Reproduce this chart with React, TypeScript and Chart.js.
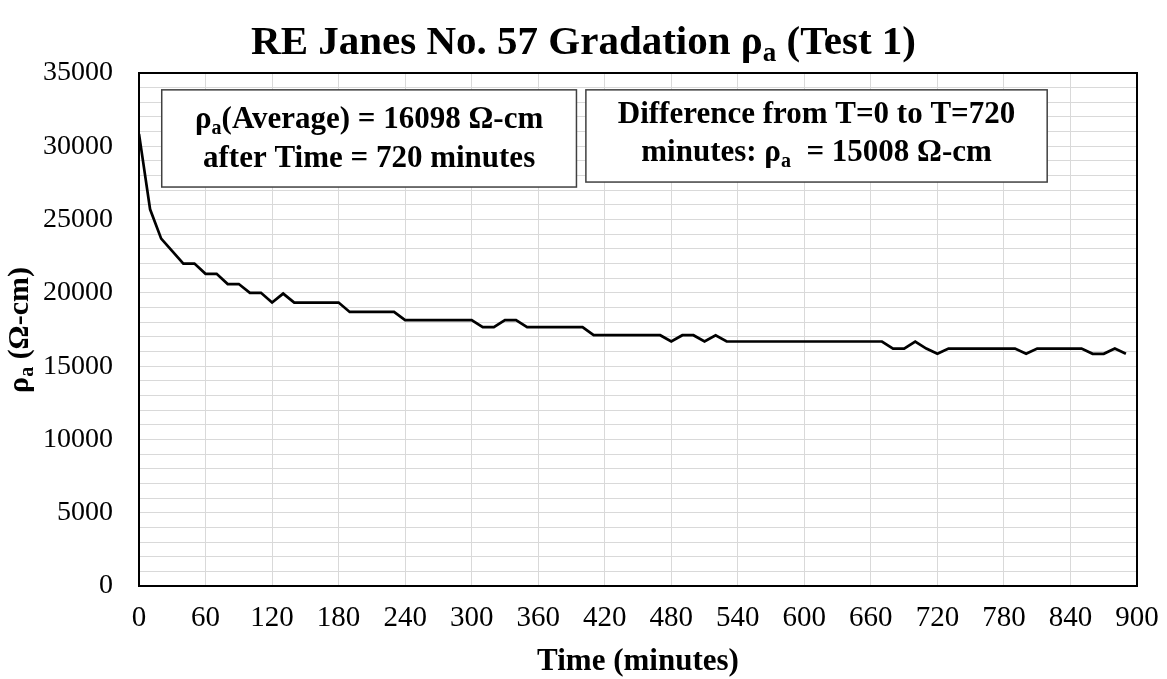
import React, { useEffect, useRef } from "react";
import { Chart, registerables } from "chart.js";

Chart.register(...registerables);

// Time (minutes)
const timeMinutes = [
  0, 10, 20, 30, 40, 50, 60, 70, 80, 90,
  100, 110, 120, 130, 140, 150, 160, 170, 180, 190,
  200, 210, 220, 230, 240, 250, 260, 270, 280, 290,
  300, 310, 320, 330, 340, 350, 360, 370, 380, 390,
  400, 410, 420, 430, 440, 450, 460, 470, 480, 490,
  500, 510, 520, 530, 540, 550, 560, 570, 580, 590,
  600, 610, 620, 630, 640, 650, 660, 670, 680, 690,
  700, 710, 720, 730, 740, 750, 760, 770, 780, 790,
  800, 810, 820, 830, 840, 850, 860, 870, 880, 890,
];

// Apparent resistivity rho_a (ohm-cm)
const rhoA = [
  30850, 25700, 23700, 22850, 22000, 22000, 21300, 21300, 20600, 20600,
  20000, 20000, 19340, 19950, 19340, 19340, 19340, 19340, 19340, 18700,
  18700, 18700, 18700, 18700, 18140, 18140, 18140, 18140, 18140, 18140,
  18140, 17660, 17660, 18140, 18140, 17660, 17660, 17660, 17660, 17660,
  17660, 17110, 17110, 17110, 17110, 17110, 17110, 17110, 16680, 17110,
  17110, 16680, 17110, 16680, 16680, 16680, 16680, 16680, 16680, 16680,
  16680, 16680, 16680, 16680, 16680, 16680, 16680, 16680, 16200, 16200,
  16680, 16200, 15840, 16200, 16200, 16200, 16200, 16200, 16200, 16200,
  15840, 16200, 16200, 16200, 16200, 16200, 15840, 15840, 16200, 15840,
];

const xTickStep = 60;
const xMax = 900;
const yMax = 35000;
const yMinorStep = 1000;
const yLabelStep = 5000;

const chartTitle = [
  { t: "RE Janes No. 57 Gradation ρ" },
  { t: "a", sub: true },
  { t: " (Test 1)" },
];
const yTitle = [{ t: "ρ" }, { t: "a", sub: true }, { t: " (Ω-cm)" }];
const xTitle = [{ t: "Time (minutes)" }];
const box1Lines = [
  [{ t: "ρ" }, { t: "a", sub: true }, { t: "(Average) = 16098 Ω-cm" }],
  [{ t: "after Time = 720 minutes" }],
];
const box2Lines = [
  [{ t: "Difference from T=0 to T=720" }],
  [{ t: "minutes: ρ" }, { t: "a", sub: true }, { t: "  = 15008 Ω-cm" }],
];

const FONT = "'Liberation Serif', 'Times New Roman', serif";

type Seg = { t: string; sub?: boolean };

function drawRich(
  ctx: CanvasRenderingContext2D,
  segs: Seg[],
  cx: number,
  cy: number,
  size: number,
  bold = true
) {
  const w = bold ? "bold " : "";
  const subSize = Math.round(size * 0.65);
  let total = 0;
  for (const s of segs) {
    ctx.font = `${w}${s.sub ? subSize : size}px ${FONT}`;
    total += ctx.measureText(s.t).width;
  }
  let x = cx - total / 2;
  ctx.textBaseline = "alphabetic";
  ctx.textAlign = "left";
  const base = cy + size * 0.33;
  for (const s of segs) {
    ctx.font = `${w}${s.sub ? subSize : size}px ${FONT}`;
    ctx.fillText(s.t, x, s.sub ? base + size * 0.18 : base);
    x += ctx.measureText(s.t).width;
  }
}

const decorPlugin = {
  id: "decor",
  beforeDraw(chart: any) {
    const ctx = chart.ctx;
    ctx.save();
    ctx.fillStyle = "#ffffff";
    ctx.fillRect(0, 0, chart.width, chart.height);
    ctx.restore();
  },
  afterDraw(chart: any) {
    const ctx: CanvasRenderingContext2D = chart.ctx;
    const a = chart.chartArea;
    ctx.save();
    // plot border
    ctx.strokeStyle = "#000000";
    ctx.lineWidth = 2;
    ctx.strokeRect(a.left, a.top, a.right - a.left, a.bottom - a.top);

    // annotation boxes
    const xs = chart.scales.x;
    const ys = chart.scales.y;
    const boxes = [
      { x0: 20.5, x1: 394.5, y0: 33850, y1: 27220, lines: box1Lines, dy: [118, 157] },
      { x0: 403, x1: 819, y0: 33850, y1: 27560, lines: box2Lines, dy: [113, 151] },
    ];
    for (const b of boxes) {
      const L = xs.getPixelForValue(b.x0);
      const R = xs.getPixelForValue(b.x1);
      const T = ys.getPixelForValue(b.y0);
      const B = ys.getPixelForValue(b.y1);
      ctx.fillStyle = "#ffffff";
      ctx.fillRect(L, T, R - L, B - T);
      ctx.strokeStyle = "#404040";
      ctx.lineWidth = 1.5;
      ctx.strokeRect(L, T, R - L, B - T);
      ctx.fillStyle = "#000000";
      const cx = (L + R) / 2;
      b.lines.forEach((ln, i) => drawRich(ctx, ln, cx, b.dy[i], 31, true));
    }

    ctx.fillStyle = "#000000";
    drawRich(ctx, chartTitle, chart.width / 2, 40, 41, true);
    drawRich(ctx, xTitle, (a.left + a.right) / 2, 660, 31, true);

    ctx.save();
    ctx.translate(18, 330);
    ctx.rotate(-Math.PI / 2);
    drawRich(ctx, yTitle, 0, 0, 30, true);
    ctx.restore();
    ctx.restore();
  },
};

export default function App() {
  const ref = useRef<HTMLCanvasElement | null>(null);
  useEffect(() => {
    if (!ref.current) return;
    const chart = new Chart(ref.current, {
      type: "line",
      data: {
        datasets: [
          {
            data: timeMinutes.map((t, i) => ({ x: t, y: rhoA[i] })),
            borderColor: "#000000",
            borderWidth: 2.7,
            pointRadius: 0,
            tension: 0,
            fill: false,
          },
        ],
      },
      options: {
        animation: false,
        responsive: true,
        maintainAspectRatio: false,
        layout: { padding: { top: 73, right: 30, left: 0, bottom: 0 } },
        plugins: {
          legend: { display: false },
          title: { display: false },
          tooltip: { enabled: false },
        },
        scales: {
          x: {
            type: "linear",
            min: 0,
            max: xMax,
            afterFit(scale: any) {
              scale.height = 93;
              scale.paddingLeft = 0;
              scale.paddingRight = 0;
            },
            afterBuildTicks(scale: any) {
              const ticks = [];
              for (let v = 0; v <= xMax; v += xTickStep) ticks.push({ value: v });
              scale.ticks = ticks;
            },
            ticks: {
              stepSize: xTickStep,
              autoSkip: false,
              maxRotation: 0,
              color: "#000000",
              padding: 15,
              font: { family: FONT, size: 29 },
            },
            grid: { color: "#d9d9d9", lineWidth: 1, drawTicks: false },
            border: { display: false },
          },
          y: {
            min: 0,
            max: yMax,
            afterFit(scale: any) {
              scale.width = 139;
              scale.paddingTop = 0;
              scale.paddingBottom = 0;
            },
            ticks: {
              stepSize: yMinorStep,
              autoSkip: false,
              color: "#000000",
              padding: 26,
              font: { family: FONT, size: 28 },
              callback: (v: any) => (Number(v) % yLabelStep === 0 ? String(v) : ""),
            },
            grid: { color: "#d9d9d9", lineWidth: 1, drawTicks: false },
            border: { display: false },
          },
        },
      },
      plugins: [decorPlugin],
    });
    return () => chart.destroy();
  }, []);
  return (
    <div style={{ position: "fixed", left: 0, top: 0, width: 1167, height: 679, background: "#fff" }}>
      <canvas ref={ref} />
    </div>
  );
}
